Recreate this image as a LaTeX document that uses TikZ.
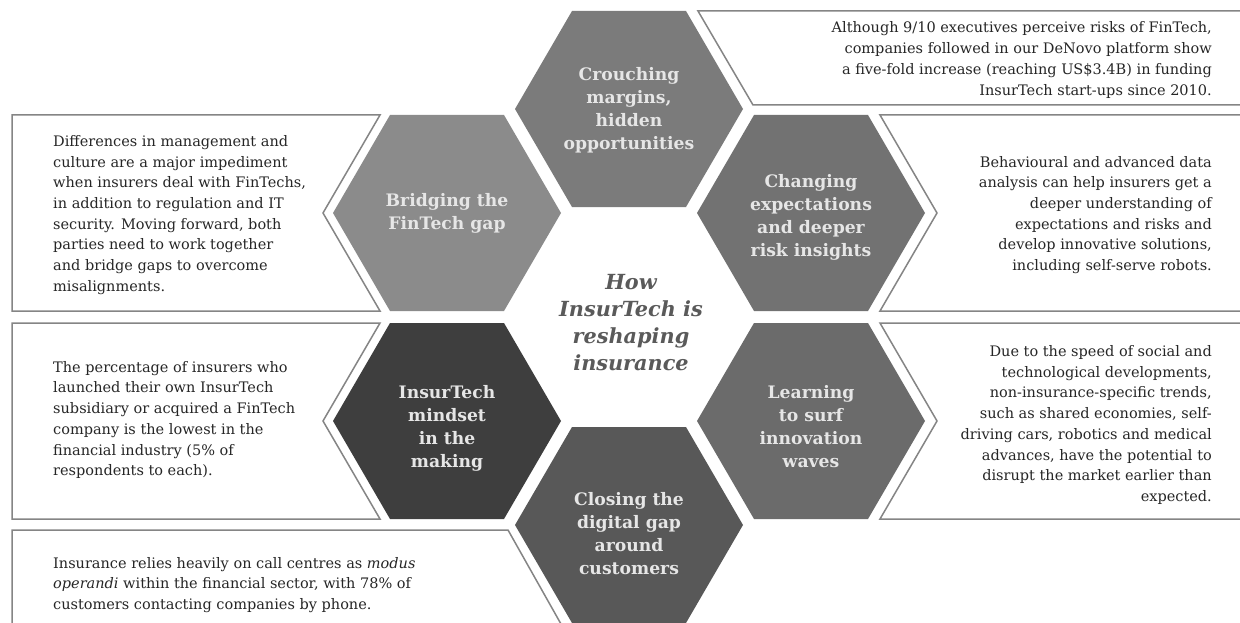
\documentclass[tikz,border=0pt]{standalone}
\usepackage{fontspec}
\setmainfont{DejaVu Serif}
\begin{document}
\definecolor{hexA}{HTML}{7B7B7B}
\definecolor{hexB}{HTML}{8B8B8B}
\definecolor{hexC}{HTML}{727272}
\definecolor{hexD}{HTML}{3E3E3E}
\definecolor{hexE}{HTML}{6B6B6B}
\definecolor{hexF}{HTML}{585858}
\definecolor{boxline}{HTML}{858585}
\definecolor{bodytext}{HTML}{262626}
\definecolor{titletext}{HTML}{5A5A5A}
\definecolor{hextext}{HTML}{E6E6E6}
\newcommand\hexpatch[3]{%
  \fill[#3, shift={(#1,#2)}] (-114,0) -- (-57,-98) -- (57,-98) -- (114,0) -- (57,98) -- (-57,98) -- cycle;}
\begin{tikzpicture}[x=1pt,y=-1pt,
  infobox/.style={draw=boxline, line width=1.5pt, fill=white, line join=miter},
  hexlabel/.style={inner sep=0pt, align=center, text=hextext, font=\fontsize{17.2}{23}\selectfont\bfseries},
  bodyl/.style={inner sep=0pt, align=left, anchor=west, text=bodytext, font=\fontsize{14.5}{20.7}\selectfont},
  bodyr/.style={inner sep=0pt, align=right, anchor=east, text=bodytext, font=\fontsize{14.5}{20.7}\selectfont}]
\useasboundingbox (0,0) rectangle (1240,623);
\fill[white] (0,0) rectangle (1240,623);

% text panels beside the hexagons
\draw[infobox] (1250,11) -- (698,11) -- (753,105) -- (1250,105);
\draw[infobox] (1250,115) -- (880,115) -- (937,213) -- (880,311) -- (1250,311);
\draw[infobox] (1250,323) -- (880,323) -- (937,421) -- (880,519) -- (1250,519);
\draw[infobox] (12,115) -- (380,115) -- (323,213) -- (380,311) -- (12,311) -- cycle;
\draw[infobox] (12,323) -- (380,323) -- (323,421) -- (380,519) -- (12,519) -- cycle;
\draw[infobox] (12,640) -- (12,530) -- (508,530) -- (570,640);

% honeycomb
\hexpatch{629}{109}{hexA}
\hexpatch{447}{213}{hexB}
\hexpatch{811}{213}{hexC}
\hexpatch{447}{421}{hexD}
\hexpatch{811}{421}{hexE}
\hexpatch{629}{525}{hexF}

\node[hexlabel] (crouch) at (629,110) {Crouching\\margins,\\hidden\\opportunities};
\node[hexlabel] (bridge) at (447,213) {Bridging the\\FinTech gap};
\node[hexlabel] (change) at (811,217) {Changing\\expectations\\and deeper\\risk insights};
\node[hexlabel] (mindset) at (447,428) {InsurTech\\mindset\\in the\\making};
\node[hexlabel] (surf) at (811,427) {Learning\\to surf\\innovation\\waves};
\node[hexlabel] (digital) at (629,534) {Closing the\\digital gap\\around\\customers};

\node[inner sep=0pt, align=center, text=titletext,
      font=\fontsize{20.8}{27}\selectfont\bfseries\itshape] (title) at (631,323)
  {How\\InsurTech is\\reshaping\\insurance};

% panel texts
\node[bodyr] (funding) at (1212,60) {Although 9/10 executives perceive risks of FinTech,\\companies followed in our DeNovo platform show\\a five-fold increase (reaching US\$3.4B) in funding\\InsurTech start-ups since 2010.};
\node[bodyr] (behaviour) at (1212,215) {Behavioural and advanced data\\analysis can help insurers get a\\deeper understanding of\\expectations and risks and\\develop innovative solutions,\\including self-serve robots.};
\node[bodyr] (trends) at (1212,425) {Due to the speed of social and\\technological developments,\\non-insurance-specific trends,\\such as shared economies, self-\\driving cars, robotics and medical\\advances, have the potential to\\disrupt the market earlier than\\expected.};
\node[bodyl] (culture) at (53,215) {Differences in management and\\culture are a major impediment\\when insurers deal with FinTechs,\\in addition to regulation and IT\\security. Moving forward, both\\parties need to work together\\and bridge gaps to overcome\\misalignments.};
\node[bodyl] (subsid) at (53,420) {The percentage of insurers who\\launched their own InsurTech\\subsidiary or acquired a FinTech\\company is the lowest in the\\financial industry (5\% of\\respondents to each).};
\node[bodyl] (phone) at (53,585) {Insurance relies heavily on call centres as \textit{modus}\\\textit{operandi} within the financial sector, with 78\% of\\customers contacting companies by phone.};
\end{tikzpicture}
\end{document}
